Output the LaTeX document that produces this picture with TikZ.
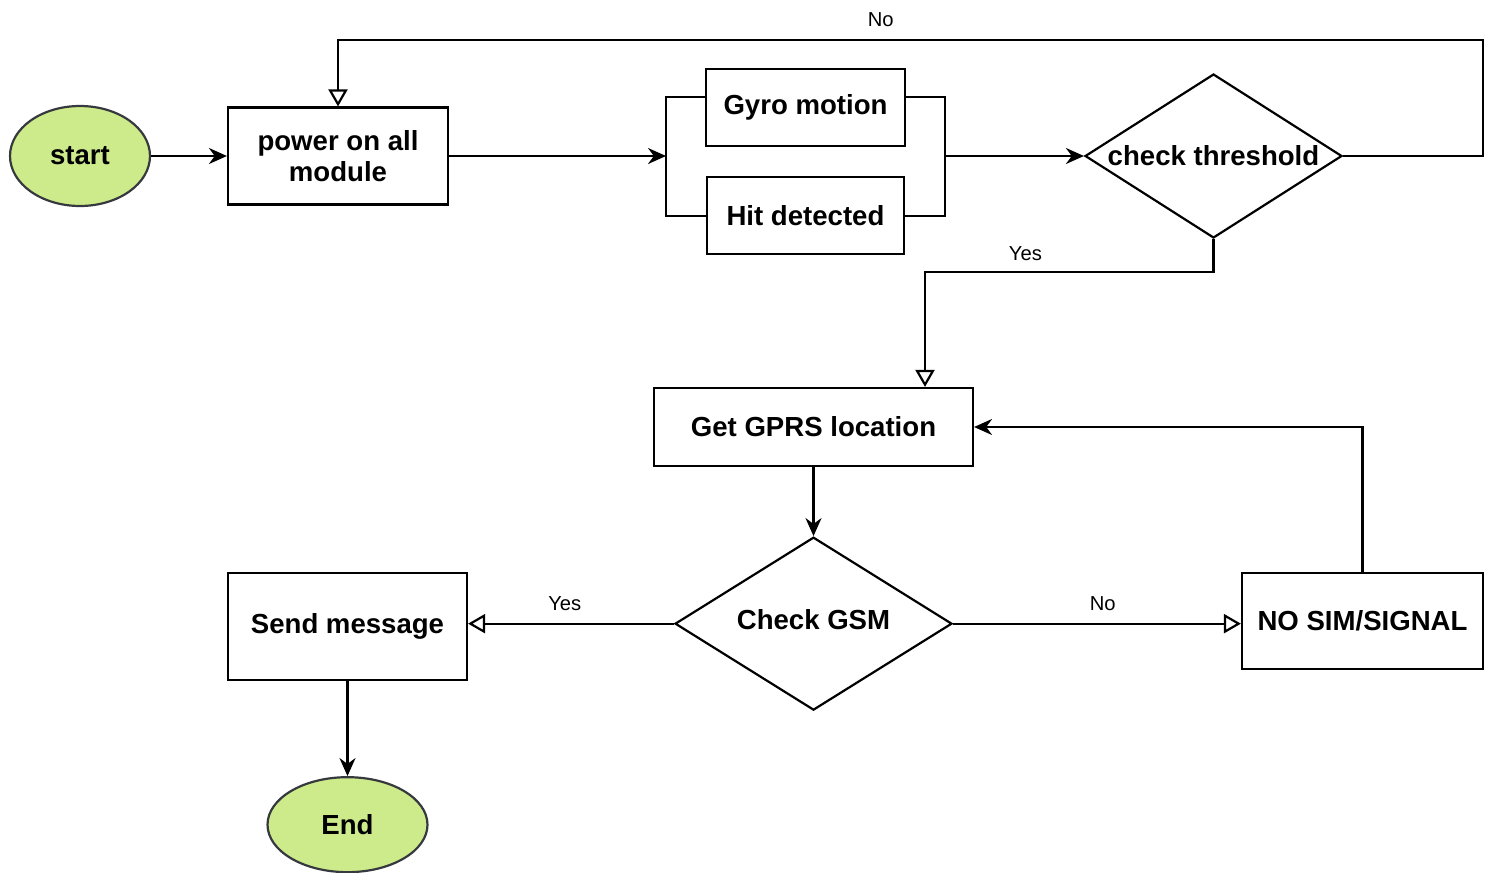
\documentclass[tikz,border=0pt]{standalone}
\usepackage{fontspec}
\setmainfont{Liberation Sans}
\usetikzlibrary{positioning,shapes.geometric,arrows.meta}
\definecolor{termfill}{HTML}{CDEB8B}
\definecolor{termline}{HTML}{36393D}

\begin{document}
\begin{tikzpicture}[x=0.02cm, y=-0.02cm, line width=1.25pt,
	font=\fontsize{15.7}{18}\selectfont\bfseries,
	>={Stealth[length=0.36cm,width=0.32cm]},
	term/.style = {draw=termline, fill=termfill, ellipse, inner sep=0pt, minimum width=2.8cm, minimum height=2cm},
	proc/.style = {draw, rectangle, align=center, inner sep=0pt},
	dec/.style = {draw, diamond, inner sep=0pt},
	hollow/.style = {-{Triangle[open,length=0.34cm,width=0.38cm]}},
	lbl/.style = {font=\fontsize{11.5}{13}\selectfont}]
	\useasboundingbox (0,0) rectangle (1490,872);
	\node[term] (start) at (80,156) {start};
	\node[proc, minimum width=4.4cm, minimum height=1.94cm] (power) at (338,156) {power on all\\module};
	\node[proc, minimum width=3.98cm, minimum height=1.54cm] (gyro) at (805.5,107.5) {Gyro motion};
	\node[proc, minimum width=3.94cm, minimum height=1.54cm] (hit) [below=0.58cm of gyro] {Hit detected};
	\node[dec, minimum width=5.14cm, minimum height=3.28cm, label=center:{check threshold}] (thr) at (1213.5,156) {};
	\node[proc, minimum width=6.38cm, minimum height=1.56cm] (gprs) at (813.5,427) {Get GPRS location};
	\node[dec, minimum width=5.54cm, minimum height=3.46cm, label={[yshift=0.08cm]center:Check GSM}] (gsm) [below=1.38cm of gprs] {};
	\node[proc, minimum width=4.78cm, minimum height=2.14cm] (send) at (347.5,626.5) {Send message};
	\node[proc, minimum width=4.82cm, minimum height=1.92cm] (nosim) at (1362.5,621) {NO SIM/SIGNAL};
	\node[term, minimum width=3.2cm, minimum height=1.9cm] (stop) [below=1.9cm of send] {End};
	% bracket round the two sensors
	\coordinate (jl) at (666,156);
	\coordinate (jr) at (945,156);
	\coordinate (nr) at (1483,40);
	\coordinate (ty) at (925,272);
	\draw[->] (start) -- (power);
	\draw[->] (power) -- (jl);
	\draw ([yshift=0.21cm]gyro.west) -| (jl) |- (hit.west);
	\draw ([yshift=0.21cm]gyro.east) -| (jr) |- (hit.east);
	\draw[->] (jr) -- (thr);
	\draw[hollow] (thr.east) -| (nr) -| node[lbl, pos=0.263, above=0.12cm] {No} (power.north);
	\draw[hollow] (thr.south) |- node[lbl, pos=0.826, above=0.08cm] {Yes} (ty) -- (ty |- gprs.north);
	\draw[->] (gprs) -- (gsm);
	\draw[hollow] (gsm.west) -- node[lbl, pos=0.53, above=0.12cm] {Yes} (gsm.west -| send.east);
	\draw[hollow] (gsm.east) -- node[lbl, pos=0.52, above=0.12cm] {No} (gsm.east -| nosim.west);
	\draw[->] (nosim.north) |- (gprs.east);
	\draw[->] (send) -- (stop);
\end{tikzpicture}
\end{document}
